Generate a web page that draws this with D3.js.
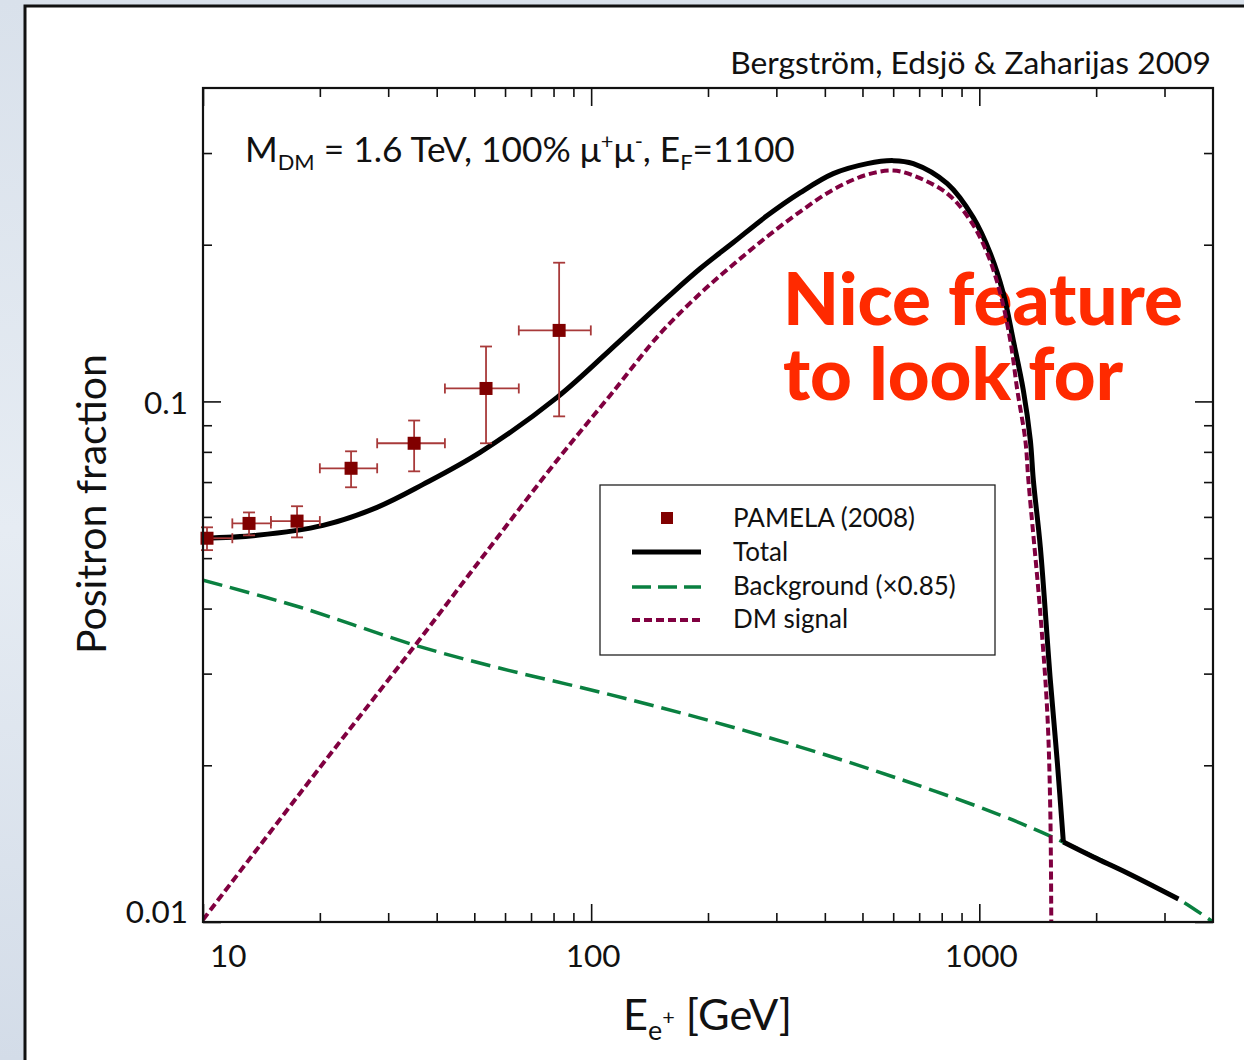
<!DOCTYPE html>
<html><head><meta charset="utf-8">
<script src="https://cdn.jsdelivr.net/npm/d3@7"></script>
<style>html,body{margin:0;padding:0;background:#dbe3ec;} svg{display:block;}</style>
</head><body><svg id="c" width="1244" height="1060"></svg>
<script>
// ---------- data ----------
const xTickValues = [10, 100, 1000];
const xTickLabels = ["10", "100", "1000"];
const yTickValues = [0.01, 0.1];
const yTickLabels = ["0.01", "0.1"];
const xMinorTicks = [20, 30, 40, 50, 60, 70, 80, 90, 200, 300, 400, 500, 600, 700, 800, 900, 2000, 3000];
const yMinorTicks = [0.02, 0.03, 0.04, 0.05, 0.06, 0.07, 0.08, 0.09, 0.2, 0.3];

const pamelaE     = [10.24, 13.14, 17.47, 24.07, 34.99, 53.6, 82.7];
const pamelaELow  = [10.0, 11.9, 14.96, 20.0, 28.1, 42.0, 65.1];
const pamelaEHigh = [11.9, 14.96, 20.0, 28.1, 42.0, 65.1, 99.8];
const pamelaF     = [0.0546, 0.0583, 0.0589, 0.0744, 0.0831, 0.1059, 0.1369];
const pamelaFLow  = [0.0518, 0.0553, 0.0548, 0.0684, 0.0734, 0.0831, 0.0936];
const pamelaFHigh = [0.0573, 0.0612, 0.0629, 0.0802, 0.0919, 0.1275, 0.1847];

const totalE = [10, 13.78, 20.39, 28.09, 36.9, 51.75, 81.73, 118.8, 157, 191, 232.3, 284.2, 345.7, 420.4, 514.4, 600.2, 676, 827.1, 965, 1067.6, 1153.3, 1223.6, 1298.6, 1353.6, 1378, 1436.3, 1524, 1589, 1646.5, 1967, 2406, 3258];
const totalF = [0.05458, 0.05532, 0.05781, 0.0626, 0.06928, 0.07982, 0.1018, 0.1309, 0.1583, 0.18, 0.2019, 0.2275, 0.2518, 0.2739, 0.2863, 0.2901, 0.2863, 0.262, 0.2255, 0.1924, 0.1612, 0.1309, 0.105, 0.08417, 0.07054, 0.05246, 0.02914, 0.0202, 0.01424, 0.01333, 0.01242, 0.01107];
const totalKinkIndex = 28;

const bgE = [10, 17.8, 35.2, 58.3, 105.5, 191, 346, 625, 1132, 1646, 2407, 3258, 4000];
const bgF = [0.04534, 0.04023, 0.03401, 0.03072, 0.02764, 0.02464, 0.02168, 0.01881, 0.01605, 0.01424, 0.01242, 0.01107, 0.0100];

const dmE = [10, 20, 35.2, 54.9, 83.2, 111.9, 150.6, 191, 232.3, 284.2, 345.7, 420.4, 514.4, 600.2, 676, 827.1, 948.1, 1048.6, 1132.8, 1202, 1253, 1314, 1338, 1436, 1497, 1524, 1533];
const dmF = [0.0101, 0.0198, 0.034, 0.0525, 0.0784, 0.1027, 0.135, 0.1612, 0.1832, 0.2074, 0.2316, 0.2552, 0.2727, 0.2776, 0.2716, 0.2507, 0.2226, 0.1924, 0.1612, 0.1309, 0.105, 0.08417, 0.07054, 0.03918, 0.02519, 0.01619, 0.0095];

const legendLabels = ["PAMELA (2008)", "Total", "Background (\u00d70.85)", "DM signal"];

// ---------- setup ----------
const FONT = "Lato, 'Open Sans', 'DejaVu Sans', sans-serif";
const svg = d3.select("#c");
const L = 203, R = 1213, T = 88, B = 922;
const x = d3.scaleLog().domain([10, 4000]).range([L, R]);
const y = d3.scaleLog().domain([0.01, 0.4]).range([B, T]);

// slide background
const defs = svg.append("defs");
const grad = defs.append("linearGradient").attr("id", "bgGrad").attr("x1", 0).attr("y1", 0).attr("x2", 0).attr("y2", 1);
grad.append("stop").attr("offset", "0%").attr("stop-color", "#d9e1eb");
grad.append("stop").attr("offset", "50%").attr("stop-color", "#e6ecf3");
grad.append("stop").attr("offset", "100%").attr("stop-color", "#d3dce8");
svg.append("rect").attr("width", 1244).attr("height", 1060).attr("fill", "url(#bgGrad)");
svg.append("rect").attr("x", 25).attr("y", 6).attr("width", 1240).attr("height", 1080)
  .attr("fill", "#fff").attr("stroke", "#111").attr("stroke-width", 3);

defs.append("clipPath").attr("id", "plotClip").append("rect")
  .attr("x", L).attr("y", T).attr("width", R - L).attr("height", B - T);

// helpers
function fit(sel, target) {
  const w = sel.node().getComputedTextLength();
  const fs = parseFloat(sel.attr("font-size"));
  sel.attr("font-size", fs * target / w);
  return sel;
}
function rich(parent, px, py, parts, fs, anchor) {
  const t = parent.append("text").attr("x", px).attr("y", py)
    .attr("font-family", FONT).attr("fill", "#111").attr("text-anchor", anchor || "start");
  function build(size) {
    t.selectAll("tspan").remove();
    let cur = 0;
    parts.forEach(p => {
      let off = 0, s = size;
      if (p.sub) { off = 0.22 * size; s = 0.62 * size; }
      if (p.sup) { off = (p.supOff !== undefined ? p.supOff : -0.38) * size; s = (p.supSize || 0.62) * size; }
      t.append("tspan").attr("font-size", s).attr("dy", off - cur).text(p.t);
      cur = off;
    });
  }
  build(fs);
  return { node: t, build };
}
function fitRich(r, fs, target) {
  const w = r.node.node().getComputedTextLength();
  r.build(fs * target / w);
  return fs * target / w;
}

// ---------- annotation (behind curves) ----------
const nice = svg.append("text").attr("font-family", FONT).attr("font-weight", 900)
  .attr("font-size", 58).attr("fill", "#ff2a00");
const n1 = nice.append("tspan").attr("x", 783).attr("y", 325).text("Nice feature");
const w1 = n1.node().getComputedTextLength();
nice.attr("font-size", 58 * 400 / w1);
nice.append("tspan").attr("x", 783).attr("y", 400).text("to look for");

// ---------- curves ----------
const line = d3.line().x(d => x(d[0])).y(d => y(d[1])).curve(d3.curveCatmullRom.alpha(0.5));
const plot = svg.append("g").attr("clip-path", "url(#plotClip)");

plot.append("path").datum(bgE.map((e, i) => [e, bgF[i]])).attr("d", line)
  .attr("fill", "none").attr("stroke", "#0a8040").attr("stroke-width", 3.5).attr("stroke-dasharray", "20,8");
const totalPts = totalE.map((e, i) => [e, totalF[i]]);
plot.append("path").datum(totalPts.slice(0, totalKinkIndex + 1)).attr("d", line)
  .attr("fill", "none").attr("stroke", "#000").attr("stroke-width", 5).attr("stroke-linejoin", "round");
plot.append("path").datum(totalPts.slice(totalKinkIndex)).attr("d", line)
  .attr("fill", "none").attr("stroke", "#000").attr("stroke-width", 5).attr("stroke-linejoin", "round");
plot.append("path").datum(dmE.map((e, i) => [e, dmF[i]])).attr("d", line)
  .attr("fill", "none").attr("stroke", "#800040").attr("stroke-width", 4).attr("stroke-dasharray", "8,4");

// PAMELA points
const errC = "#a83a3a";
const pts = svg.append("g");
pamelaE.forEach((e, i) => {
  const cx = x(e), cy = y(pamelaF[i]);
  const x0 = x(pamelaELow[i]), x1 = x(pamelaEHigh[i]);
  const y0 = y(pamelaFLow[i]), y1 = y(pamelaFHigh[i]);
  const g = pts.append("g").attr("stroke", errC).attr("stroke-width", 1.8);
  g.append("line").attr("x1", x0).attr("x2", x1).attr("y1", cy).attr("y2", cy);
  g.append("line").attr("x1", cx).attr("x2", cx).attr("y1", y0).attr("y2", y1);
  g.append("line").attr("x1", x0).attr("x2", x0).attr("y1", cy - 5).attr("y2", cy + 5);
  g.append("line").attr("x1", x1).attr("x2", x1).attr("y1", cy - 5).attr("y2", cy + 5);
  g.append("line").attr("x1", cx - 6).attr("x2", cx + 6).attr("y1", y0).attr("y2", y0);
  g.append("line").attr("x1", cx - 6).attr("x2", cx + 6).attr("y1", y1).attr("y2", y1);
  pts.append("rect").attr("x", cx - 6.5).attr("y", cy - 6.5).attr("width", 13).attr("height", 13).attr("fill", "#800000");
});

// ---------- axes ----------
function styleAxis(g) {
  g.select(".domain").remove();
  g.selectAll(".tick line").attr("stroke", "#111").attr("stroke-width", 1.6);
  g.selectAll(".tick text").remove();
}
svg.append("g").attr("transform", `translate(0,${B})`).call(d3.axisBottom(x).tickValues(xTickValues).tickSize(-18).tickFormat("")).call(styleAxis);
svg.append("g").attr("transform", `translate(0,${B})`).call(d3.axisBottom(x).tickValues(xMinorTicks).tickSize(-9).tickFormat("")).call(styleAxis);
svg.append("g").attr("transform", `translate(0,${T})`).call(d3.axisTop(x).tickValues(xTickValues).tickSize(-18).tickFormat("")).call(styleAxis);
svg.append("g").attr("transform", `translate(0,${T})`).call(d3.axisTop(x).tickValues(xMinorTicks).tickSize(-9).tickFormat("")).call(styleAxis);
svg.append("g").attr("transform", `translate(${L},0)`).call(d3.axisLeft(y).tickValues(yTickValues).tickSize(-18).tickFormat("")).call(styleAxis);
svg.append("g").attr("transform", `translate(${L},0)`).call(d3.axisLeft(y).tickValues(yMinorTicks).tickSize(-9).tickFormat("")).call(styleAxis);
svg.append("g").attr("transform", `translate(${R},0)`).call(d3.axisRight(y).tickValues(yTickValues).tickSize(-18).tickFormat("")).call(styleAxis);
svg.append("g").attr("transform", `translate(${R},0)`).call(d3.axisRight(y).tickValues(yMinorTicks).tickSize(-9).tickFormat("")).call(styleAxis);
svg.append("rect").attr("x", L).attr("y", T).attr("width", R - L).attr("height", B - T)
  .attr("fill", "none").attr("stroke", "#111").attr("stroke-width", 2.2);

// tick labels
const tl = svg.append("g").attr("font-family", FONT).attr("fill", "#111");
const probe = tl.append("text").attr("font-size", 36).text("1000");
fit(probe, 73);
const TFS = +probe.attr("font-size");
probe.remove();
xTickValues.forEach((v, i) => {
  const t = tl.append("text").attr("font-size", TFS).attr("y", 967).text(xTickLabels[i]);
  if (i === 0) t.attr("x", x(v) + 7).attr("text-anchor", "start");
  else t.attr("x", x(v) + 2).attr("text-anchor", "middle");
});
yTickValues.forEach((v, i) => {
  const t = tl.append("text").attr("font-size", TFS).attr("x", 188).attr("text-anchor", "end").text(yTickLabels[i]);
  t.attr("y", i === 0 ? y(v) + 1 : y(v) + 13);
});

// axis titles
const yl = svg.append("text").attr("font-family", FONT).attr("font-size", 40).attr("fill", "#111")
  .attr("text-anchor", "middle").attr("transform", "translate(106,504) rotate(-90)").text("Positron fraction");
fit(yl, 300);

const xl = rich(svg, 623, 1030, [{t: "E"}, {t: "e", sub: true}, {t: "+", sup: true, supOff: -0.12, supSize: 0.5}, {t: " [GeV]"}], 42, "start");
fitRich(xl, 42, 169);

// header texts
const title = svg.append("text").attr("x", 1211).attr("y", 74).attr("text-anchor", "end")
  .attr("font-family", FONT).attr("font-size", 29).attr("fill", "#111").text("Bergstr\u00f6m, Edsj\u00f6 & Zaharijas 2009");
fit(title, 481);

const ann = rich(svg, 245, 162, [
  {t: "M"}, {t: "DM", sub: true}, {t: " = 1.6 TeV, 100% \u03bc"}, {t: "+", sup: true},
  {t: "\u03bc"}, {t: "-", sup: true}, {t: ", E"}, {t: "F", sub: true}, {t: "=1100"}
], 36, "start");
fitRich(ann, 36, 550);

// ---------- legend ----------
const lg = svg.append("g");
lg.append("rect").attr("x", 600).attr("y", 485).attr("width", 395).attr("height", 170)
  .attr("fill", "#fff").attr("stroke", "#222").attr("stroke-width", 1.3);
const rowY = [518, 552, 587, 620];
lg.append("rect").attr("x", 667 - 6).attr("y", rowY[0] - 6).attr("width", 12).attr("height", 12).attr("fill", "#800000");
lg.append("line").attr("x1", 632).attr("x2", 701).attr("y1", rowY[1]).attr("y2", rowY[1]).attr("stroke", "#000").attr("stroke-width", 5);
lg.append("line").attr("x1", 632).attr("x2", 701).attr("y1", rowY[2]).attr("y2", rowY[2]).attr("stroke", "#0a8040").attr("stroke-width", 3.5).attr("stroke-dasharray", "19,7");
lg.append("line").attr("x1", 632).attr("x2", 701).attr("y1", rowY[3]).attr("y2", rowY[3]).attr("stroke", "#800040").attr("stroke-width", 4).attr("stroke-dasharray", "8,4");
const lt0 = lg.append("text").attr("x", 733).attr("y", 527).attr("font-family", FONT).attr("font-size", 26).attr("fill", "#111").text(legendLabels[0]);
fit(lt0, 182);
const LFS = +lt0.attr("font-size");
[561, 595, 628].forEach((by, i) => {
  lg.append("text").attr("x", 733).attr("y", by).attr("font-family", FONT).attr("font-size", LFS).attr("fill", "#111").text(legendLabels[i + 1]);
});
</script>
</body></html>
